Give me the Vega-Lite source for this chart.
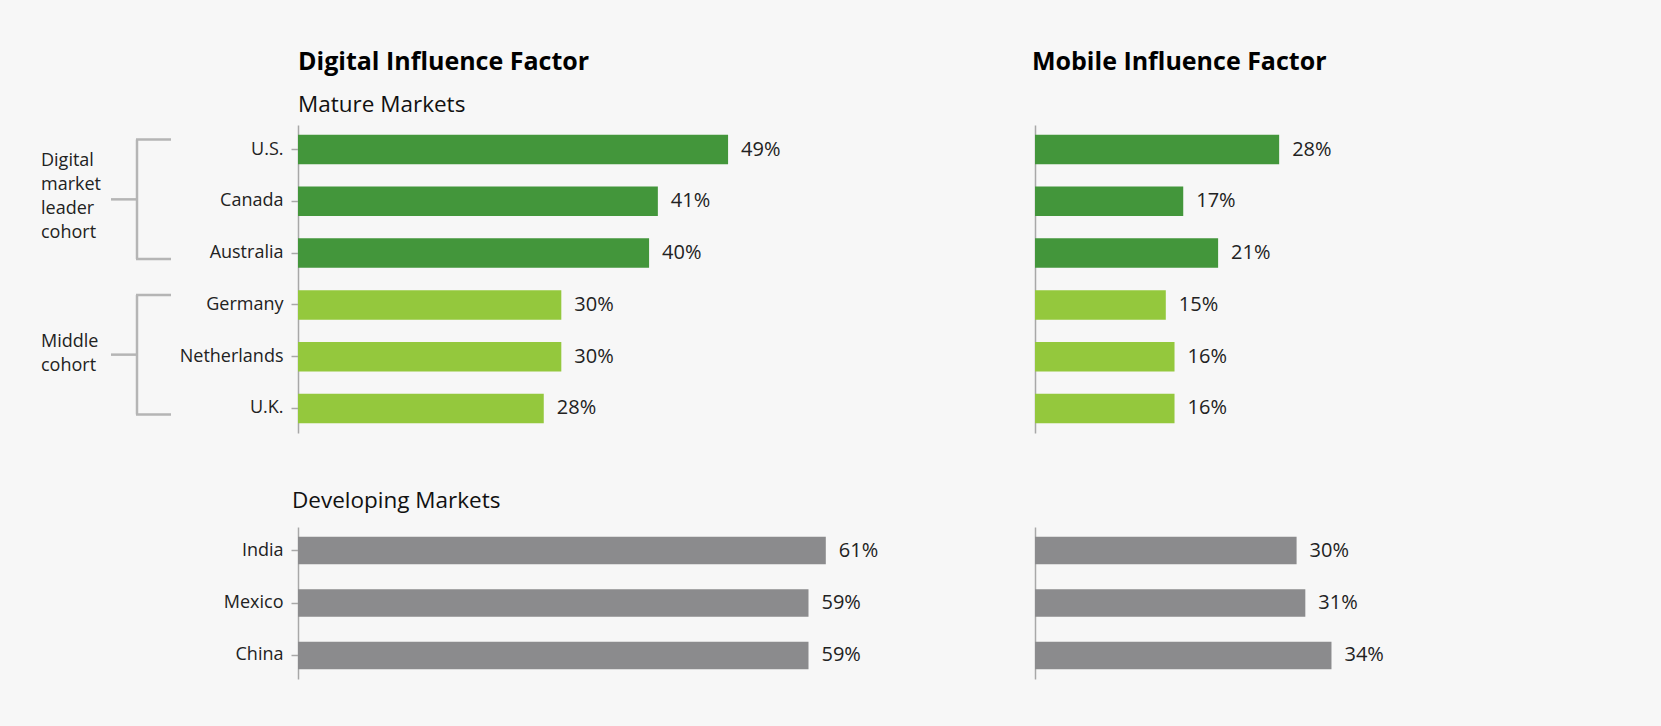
{
  "$schema": "https://vega.github.io/schema/vega-lite/v6.json",
  "background": "#f7f7f7",
  "padding": {"left": 41, "top": 49, "right": 190, "bottom": 47},
  "datasets": {
    "mature": [
      {"country": "U.S.", "cohort": "Digital market leader cohort", "digital": 0.49, "mobile": 0.28},
      {"country": "Canada", "cohort": "Digital market leader cohort", "digital": 0.41, "mobile": 0.17},
      {"country": "Australia", "cohort": "Digital market leader cohort", "digital": 0.40, "mobile": 0.21},
      {"country": "Germany", "cohort": "Middle cohort", "digital": 0.30, "mobile": 0.15},
      {"country": "Netherlands", "cohort": "Middle cohort", "digital": 0.30, "mobile": 0.16},
      {"country": "U.K.", "cohort": "Middle cohort", "digital": 0.28, "mobile": 0.16}
    ],
    "developing": [
      {"country": "India", "digital": 0.61, "mobile": 0.30},
      {"country": "Mexico", "digital": 0.59, "mobile": 0.31},
      {"country": "China", "digital": 0.59, "mobile": 0.34}
    ],
    "brackets": [
      {"label": "Digital\nmarket\nleader\ncohort", "first": "U.S.", "mid": "Canada", "last": "Australia"},
      {"label": "Middle\ncohort", "first": "Germany", "mid": "Netherlands", "last": "U.K."}
    ]
  },
  "columns": 2,
  "bounds": "flush",
  "spacing": {"row": 94, "column": 127},
  "concat": [
    {
      "width": 610,
      "height": 308,
      "title": {"text": "Digital Influence Factor", "subtitle": "Mature Markets"},
      "layer": [
        {
          "data": {"name": "mature"},
          "mark": {"type": "bar"},
          "encoding": {
            "y": {"field": "country", "type": "nominal", "title": null,
                  "scale": {"domain": ["U.S.", "Canada", "Australia", "Germany", "Netherlands", "U.K."], "paddingInner": 0.43, "paddingOuter": 0.19},
                  "axis": {"domainColor": "#a8a8a8", "domainWidth": 1.5, "tickColor": "#a8a8a8", "tickSize": 7, "tickWidth": 1.5, "labelPadding": 8, "labelFontSize": 18, "labelColor": "#222222", "labelFont": "Open Sans"}},
            "x": {"field": "digital", "type": "quantitative", "scale": {"domain": [0, 0.695], "nice": false}, "axis": null},
            "color": {"field": "cohort", "type": "nominal", "legend": null,
                      "scale": {"domain": ["Digital market leader cohort", "Middle cohort"], "range": ["#43963b", "#94c83d"]}}
          }
        },
        {
          "data": {"name": "mature"},
          "mark": {"type": "text", "align": "left", "baseline": "middle", "dx": 13, "fontSize": 20, "color": "#222222", "font": "Open Sans"},
          "encoding": {
            "y": {"field": "country", "type": "nominal", "title": null,
                  "scale": {"domain": ["U.S.", "Canada", "Australia", "Germany", "Netherlands", "U.K."]}},
            "x": {"field": "digital", "type": "quantitative"},
            "text": {"field": "digital", "type": "quantitative", "format": ".0%"}
          }
        },
        {
          "data": {"name": "brackets"},
          "mark": {"type": "rule", "color": "#b5b5b5", "strokeWidth": 2.5, "yOffset": -10, "y2Offset": 6},
          "encoding": {
            "y": {"field": "first", "type": "nominal", "title": null,
                  "scale": {"domain": ["U.S.", "Canada", "Australia", "Germany", "Netherlands", "U.K."]}},
            "y2": {"field": "last"},
            "x": {"value": -161}
          }
        },
        {
          "data": {"name": "brackets"},
          "mark": {"type": "rule", "color": "#b5b5b5", "strokeWidth": 2.5, "yOffset": -10},
          "encoding": {
            "y": {"field": "first", "type": "nominal", "title": null,
                  "scale": {"domain": ["U.S.", "Canada", "Australia", "Germany", "Netherlands", "U.K."]}},
            "x": {"value": -162},
            "x2": {"value": -127}
          }
        },
        {
          "data": {"name": "brackets"},
          "mark": {"type": "rule", "color": "#b5b5b5", "strokeWidth": 2.5, "yOffset": 6},
          "encoding": {
            "y": {"field": "last", "type": "nominal", "title": null,
                  "scale": {"domain": ["U.S.", "Canada", "Australia", "Germany", "Netherlands", "U.K."]}},
            "x": {"value": -162},
            "x2": {"value": -127}
          }
        },
        {
          "data": {"name": "brackets"},
          "mark": {"type": "rule", "color": "#b5b5b5", "strokeWidth": 2.5, "yOffset": -2},
          "encoding": {
            "y": {"field": "mid", "type": "nominal", "title": null,
                  "scale": {"domain": ["U.S.", "Canada", "Australia", "Germany", "Netherlands", "U.K."]}},
            "x": {"value": -187},
            "x2": {"value": -161}
          }
        },
        {
          "data": {"name": "brackets"},
          "transform": [{"filter": "datum.first == 'U.S.'"}],
          "mark": {"type": "text", "align": "left", "baseline": "middle", "lineBreak": "\n", "lineHeight": 24, "fontSize": 18, "color": "#222222", "font": "Open Sans", "dy": -40},
          "encoding": {
            "y": {"field": "mid", "type": "nominal", "title": null,
                  "scale": {"domain": ["U.S.", "Canada", "Australia", "Germany", "Netherlands", "U.K."]}},
            "x": {"value": -257},
            "text": {"field": "label", "type": "nominal"}
          }
        },
        {
          "data": {"name": "brackets"},
          "transform": [{"filter": "datum.first == 'Germany'"}],
          "mark": {"type": "text", "align": "left", "baseline": "middle", "lineBreak": "\n", "lineHeight": 24, "fontSize": 18, "color": "#222222", "font": "Open Sans", "dy": -15},
          "encoding": {
            "y": {"field": "mid", "type": "nominal", "title": null,
                  "scale": {"domain": ["U.S.", "Canada", "Australia", "Germany", "Netherlands", "U.K."]}},
            "x": {"value": -257},
            "text": {"field": "label", "type": "nominal"}
          }
        }
      ]
    },
    {
      "width": 436,
      "height": 308,
      "title": {"text": "Mobile Influence Factor", "subtitle": " ", "dx": -3},
      "data": {"name": "mature"},
      "layer": [
        {
          "mark": {"type": "bar"},
          "encoding": {
            "y": {"field": "country", "type": "nominal", "title": null,
                  "scale": {"domain": ["U.S.", "Canada", "Australia", "Germany", "Netherlands", "U.K."], "paddingInner": 0.43, "paddingOuter": 0.19},
                  "axis": {"labels": false, "ticks": false, "domainColor": "#a8a8a8", "domainWidth": 1.5}},
            "x": {"field": "mobile", "type": "quantitative", "scale": {"domain": [0, 0.5], "nice": false}, "axis": null},
            "color": {"field": "cohort", "type": "nominal", "legend": null,
                      "scale": {"domain": ["Digital market leader cohort", "Middle cohort"], "range": ["#43963b", "#94c83d"]}}
          }
        },
        {
          "mark": {"type": "text", "align": "left", "baseline": "middle", "dx": 13, "fontSize": 20, "color": "#222222", "font": "Open Sans"},
          "encoding": {
            "y": {"field": "country", "type": "nominal", "title": null},
            "x": {"field": "mobile", "type": "quantitative"},
            "text": {"field": "mobile", "type": "quantitative", "format": ".0%"}
          }
        }
      ]
    },
    {
      "width": 610,
      "height": 152,
      "title": {"text": "Developing Markets", "fontSize": 22.5, "fontWeight": "normal", "color": "#111111", "offset": 15, "dx": -6},
      "data": {"name": "developing"},
      "layer": [
        {
          "mark": {"type": "bar", "color": "#8b8b8d"},
          "encoding": {
            "y": {"field": "country", "type": "nominal", "title": null,
                  "scale": {"domain": ["India", "Mexico", "China"], "paddingInner": 0.476, "paddingOuter": 0.186},
                  "axis": {"domainColor": "#a8a8a8", "domainWidth": 1.5, "tickColor": "#a8a8a8", "tickSize": 7, "tickWidth": 1.5, "labelPadding": 8, "labelFontSize": 18, "labelColor": "#222222", "labelFont": "Open Sans"}},
            "x": {"field": "digital", "type": "quantitative", "scale": {"domain": [0, 0.705], "nice": false}, "axis": null}
          }
        },
        {
          "mark": {"type": "text", "align": "left", "baseline": "middle", "dx": 13, "fontSize": 20, "color": "#222222", "font": "Open Sans"},
          "encoding": {
            "y": {"field": "country", "type": "nominal", "title": null},
            "x": {"field": "digital", "type": "quantitative"},
            "text": {"field": "digital", "type": "quantitative", "format": ".0%"}
          }
        }
      ]
    },
    {
      "width": 436,
      "height": 152,
      "data": {"name": "developing"},
      "layer": [
        {
          "mark": {"type": "bar", "color": "#8b8b8d"},
          "encoding": {
            "y": {"field": "country", "type": "nominal", "title": null,
                  "scale": {"domain": ["India", "Mexico", "China"], "paddingInner": 0.476, "paddingOuter": 0.186},
                  "axis": {"labels": false, "ticks": false, "domainColor": "#a8a8a8", "domainWidth": 1.5}},
            "x": {"field": "mobile", "type": "quantitative", "scale": {"domain": [0, 0.5], "nice": false}, "axis": null}
          }
        },
        {
          "mark": {"type": "text", "align": "left", "baseline": "middle", "dx": 13, "fontSize": 20, "color": "#222222", "font": "Open Sans"},
          "encoding": {
            "y": {"field": "country", "type": "nominal", "title": null},
            "x": {"field": "mobile", "type": "quantitative"},
            "text": {"field": "mobile", "type": "quantitative", "format": ".0%"}
          }
        }
      ]
    }
  ],
  "config": {
    "view": {"stroke": null},
    "font": "Open Sans",
    "axis": {"grid": false},
    "title": {"anchor": "start", "frame": "group", "font": "Open Sans", "fontSize": 25, "fontWeight": "bold", "color": "#000000",
              "subtitleFont": "Open Sans", "subtitleFontSize": 22.5, "subtitleColor": "#111111", "subtitlePadding": 19, "offset": 9}
  }
}
